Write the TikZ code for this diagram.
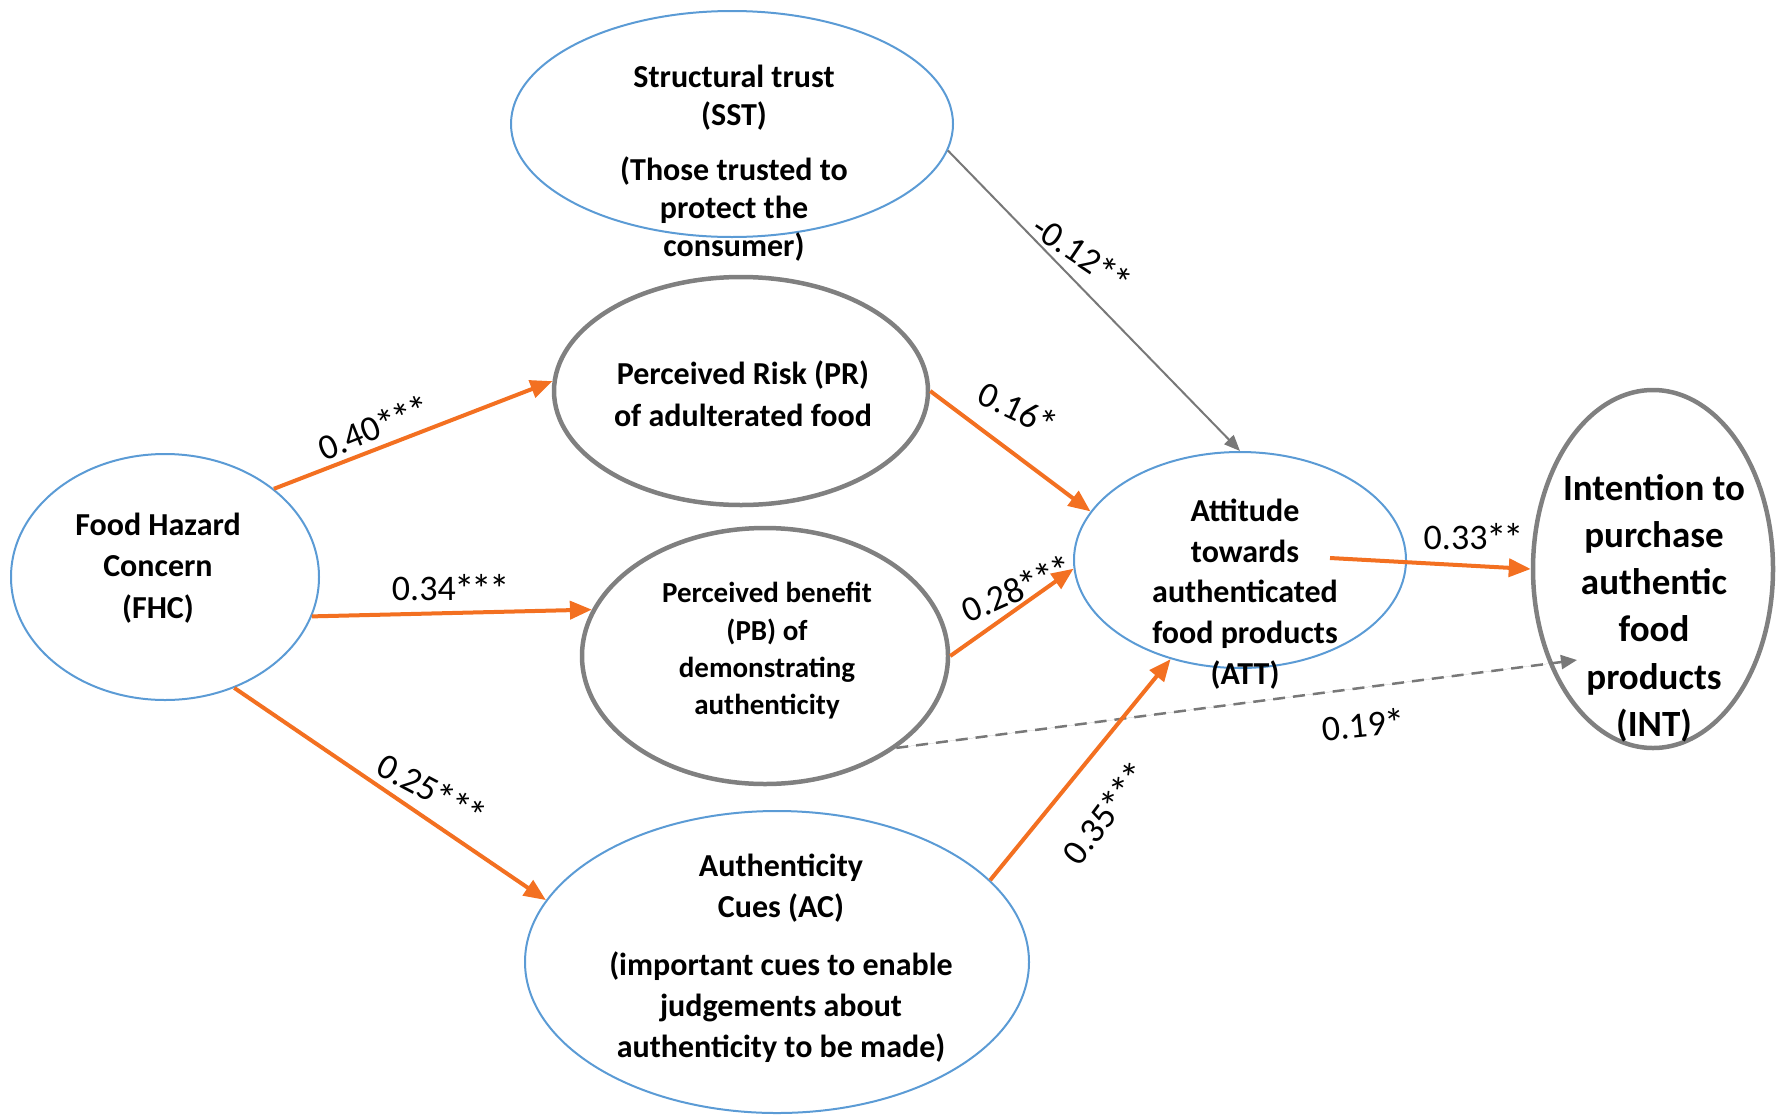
\documentclass[tikz,border=0pt]{standalone}
\usepackage{fontspec}
\setmainfont{Carlito}
\usetikzlibrary{shapes.geometric,arrows.meta,calc}
\definecolor{edgeorange}{RGB}{243,112,33}
\definecolor{ovalblue}{RGB}{91,155,213}
\definecolor{ovalgray}{RGB}{128,128,128}
\definecolor{linegray}{RGB}{120,120,120}
% significance star, set a little larger and lower than the plain glyph
\newcommand{\sigstar}{{\fontsize{41}{41}\selectfont\kern-1.5pt\raisebox{-3.5pt}{*}\kern-1.5pt}}

\begin{document}
\begin{tikzpicture}[x=1pt,y=-1pt,
  blueoval/.style={ellipse,draw=ovalblue,line width=2pt,inner sep=0pt},
  grayoval/.style={ellipse,draw=ovalgray,line width=4.5pt,inner sep=0pt},
  oval/.style 2 args={minimum width=#1,minimum height=#2},
  nodetext/.style={align=center,inner sep=0pt,font=\bfseries\fontsize{32}{41}\selectfont},
  lab/.style={inner sep=0pt,font=\fontsize{36}{40}\selectfont},
  orangearrow/.style={draw=edgeorange,line width=4pt,
    -{Triangle[length=22pt,width=18pt]},fill=edgeorange},
  grayarrow/.style={draw=linegray,line width=2pt,
    -{Triangle[length=16pt,width=13pt]},fill=linegray},
  dasharrow/.style={draw=linegray,line width=2.5pt,dash pattern=on 12pt off 8pt,
    -{Triangle[length=16pt,width=14pt]},fill=linegray},
]
\useasboundingbox (0,0) rectangle (1779,1114);

% constructs
\node[blueoval,oval={442pt}{226pt}] (sst) at (732,124) {};
\node[blueoval,oval={308pt}{246pt}] (fhc) at (165,577) {};
\node[grayoval,oval={374pt}{228pt}] (pr) at (741,391) {};
\node[grayoval,oval={366pt}{256pt}] (pb) at (765,656) {};
\node[blueoval,oval={332pt}{216pt}] (att) at (1240,560) {};
\node[grayoval,oval={240pt}{358pt}] (int) at (1653,569) {};
\node[blueoval,oval={504pt}{302pt}] (ac) at (777,962) {};

% construct labels
\node[nodetext,font=\bfseries\fontsize{32}{38}\selectfont] (sst-t) at (734,163)
  {Structural trust\\(SST)\\[17pt](Those trusted to\\protect the\\consumer)};
\node[nodetext,font=\bfseries\fontsize{32}{41.5}\selectfont] (fhc-t) at (158,568)
  {Food Hazard\\Concern\\(FHC)};
\node[nodetext,font=\bfseries\fontsize{32}{42}\selectfont] (pr-t) at (743,394)
  {Perceived Risk (PR)\\of adulterated food};
\node[nodetext,font=\bfseries\fontsize{29}{37.3}\selectfont] (pb-t) at (767,651)
  {Perceived benefit\\(PB) of\\demonstrating\\authenticity};
\node[nodetext,font=\bfseries\fontsize{32}{40.8}\selectfont] (att-t) at (1245,594)
  {Attitude\\towards\\authenticated\\food products\\(ATT)};
\node[nodetext,font=\bfseries\fontsize{37}{47.2}\selectfont] (int-t) at (1654,608)
  {Intention to\\purchase\\authentic\\food\\products\\(INT)};
\node[nodetext,font=\bfseries\fontsize{32}{41}\selectfont] (ac-t) at (781,958)
  {Authenticity\\Cues (AC)\\[17pt](important cues to enable\\judgements about\\authenticity to be made)};

% free ends inside the ovals
\coordinate (att-out) at (1330,558);
\coordinate (int-in) at (1577,660);

% paths
\draw[grayarrow] (sst.-7) -- (att.90);
\draw[dasharrow] (pb.-35) -- (int-in);
\draw[orangearrow] (fhc.39) -- (pr.177);
\draw[orangearrow] (fhc.-15) -- (pb.165);
\draw[orangearrow] (fhc.-58) -- (ac.165);
\draw[orangearrow] (pr.0) -- (att.162);
\draw[orangearrow] (pb.0) -- (att.183);
\draw[orangearrow] (ac.21) -- (att.-125);
\draw[orangearrow] (att-out) -- (int.180);

% path coefficients
\node[lab,rotate=22] (c-fhc-pr) at (374,429) {0.40\sigstar\sigstar\sigstar};
\node[lab] (c-fhc-pb) at (450,589) {0.34\sigstar\sigstar\sigstar};
\node[lab,rotate=-28] (c-fhc-ac) at (431,791) {0.25\sigstar\sigstar\sigstar};
\node[lab,rotate=-25] (c-pr-att) at (1017,410) {0.16\sigstar};
\node[lab,rotate=24] (c-pb-att) at (1017,590) {0.28\sigstar\sigstar\sigstar};
\node[lab,rotate=53] (c-ac-att) at (1106,814) {0.35\sigstar\sigstar\sigstar};
\node[lab,rotate=-34] (c-sst-att) at (1081,255) {-0.12\sigstar\sigstar};
\node[lab] (c-att-int) at (1473,538) {0.33\sigstar\sigstar};
\node[lab,rotate=6] (c-pb-int) at (1363,726) {0.19\sigstar};
\end{tikzpicture}
\end{document}
